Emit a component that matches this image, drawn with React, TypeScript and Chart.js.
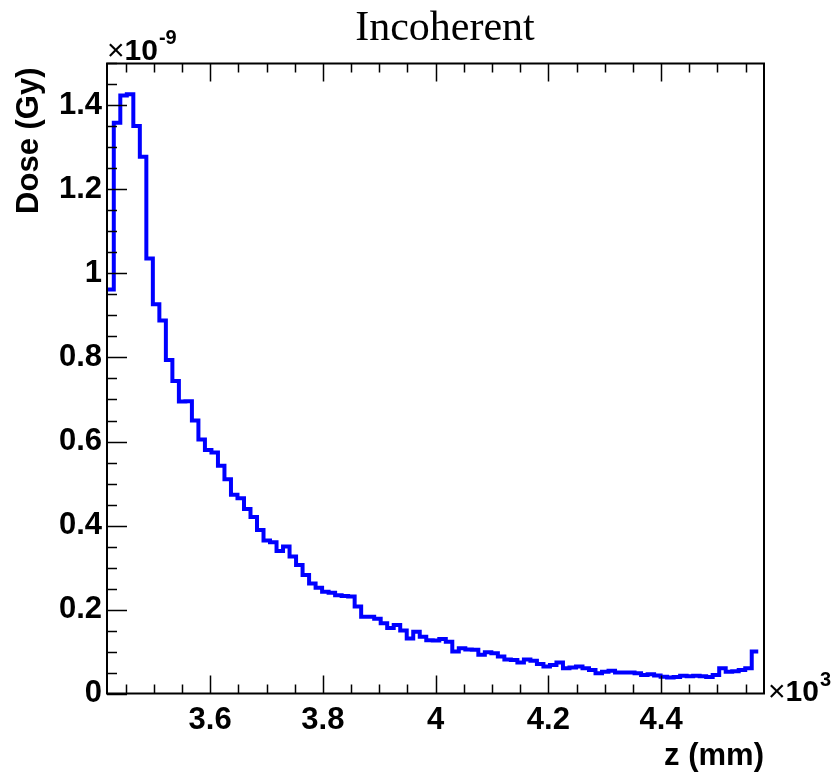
import React, { useEffect, useRef } from "react";
import { Chart, registerables } from "chart.js";

Chart.register(...registerables);

const TITLE = "Incoherent";
const X_TITLE = "z (mm)";
const Y_TITLE = "Dose (Gy)";
const X_EXP = "3";
const Y_EXP = "-9";

const X_MIN = 3.417;
const X_MAX = 4.5825;
const Y_MIN = 0;
const Y_MAX = 1.5;

const HIST_START = 3.4175;
const BIN_WIDTH = 0.011548;

const DOSE = [
  0.962, 1.359, 1.424, 1.427, 1.351, 1.278, 1.036, 0.927, 0.888, 0.794,
  0.744, 0.695, 0.696, 0.65, 0.605, 0.58, 0.574, 0.542, 0.51, 0.473,
  0.465, 0.439, 0.42, 0.389, 0.364, 0.36, 0.339, 0.35, 0.326, 0.306,
  0.282, 0.262, 0.252, 0.242, 0.24, 0.234, 0.232, 0.231, 0.207, 0.183,
  0.183, 0.178, 0.167, 0.156, 0.163, 0.15, 0.131, 0.147, 0.135, 0.127,
  0.126, 0.13, 0.123, 0.1, 0.108, 0.105, 0.104, 0.092, 0.098, 0.096,
  0.088, 0.081, 0.08, 0.074, 0.081, 0.078, 0.07, 0.064, 0.068, 0.074,
  0.06, 0.062, 0.064, 0.06, 0.056, 0.048, 0.052, 0.054, 0.05, 0.05,
  0.05, 0.048, 0.044, 0.046, 0.043, 0.04, 0.038, 0.039, 0.042, 0.041,
  0.042, 0.041, 0.039, 0.044, 0.06, 0.052, 0.053, 0.056, 0.06, 0.1,
];

const X_TICKS = [3.6, 3.8, 4.0, 4.2, 4.4];
const Y_TICKS = [0, 0.2, 0.4, 0.6, 0.8, 1.0, 1.2, 1.4];
const X_MINOR = 0.05;
const Y_MINOR = 0.05;

const SANS = "'Liberation Sans', Arial, Helvetica, sans-serif";
const SERIF = "'Liberation Serif', 'Times New Roman', serif";

const framePlugin = {
  id: "rootFrame",
  afterDraw(chart: any) {
    const { ctx, chartArea } = chart;
    const { left, right, top, bottom } = chartArea;
    const xs = chart.scales.x;
    const ys = chart.scales.y;
    ctx.save();
    ctx.strokeStyle = "#000";
    ctx.lineWidth = 2;
    ctx.strokeRect(left, top, right - left, bottom - top);

    ctx.lineWidth = 1.5;
    ctx.beginPath();
    const xStart = Math.ceil((X_MIN - 1e-9) / X_MINOR) * X_MINOR;
    for (let v = xStart; v <= X_MAX + 1e-9; v += X_MINOR) {
      const isMajor = X_TICKS.some((t) => Math.abs(t - v) < 1e-6);
      const len = isMajor ? 18 : 9;
      const px = Math.round(xs.getPixelForValue(v)) + 0.5;
      ctx.moveTo(px, bottom);
      ctx.lineTo(px, bottom - len);
      ctx.moveTo(px, top);
      ctx.lineTo(px, top + len);
    }
    for (let v = Y_MIN; v <= Y_MAX + 1e-9; v += Y_MINOR) {
      const isMajor = Y_TICKS.some((t) => Math.abs(t - v) < 1e-6);
      const len = isMajor ? 20 : 10;
      const py = Math.round(ys.getPixelForValue(v)) + 0.5;
      ctx.moveTo(left, py);
      ctx.lineTo(left + len, py);
    }
    ctx.stroke();

    ctx.fillStyle = "#000";
    ctx.font = `42px ${SERIF}`;
    ctx.textAlign = "center";
    ctx.textBaseline = "alphabetic";
    ctx.fillText(TITLE, 445, 40);

    ctx.font = `bold 31px ${SANS}`;
    ctx.textAlign = "right";
    ctx.fillText(X_TITLE, right, 765);

    ctx.save();
    ctx.translate(29, top + 4);
    ctx.rotate(-Math.PI / 2);
    ctx.textAlign = "right";
    ctx.textBaseline = "middle";
    ctx.fillText(Y_TITLE, 0, 0);
    ctx.restore();

    ctx.textAlign = "left";
    ctx.textBaseline = "alphabetic";
    let x0 = left;
    ctx.font = `30px ${SANS}`;
    ctx.fillText("\u00d7", x0, 60);
    x0 += ctx.measureText("\u00d7").width;
    ctx.font = `bold 30px ${SANS}`;
    ctx.fillText("10", x0, 60);
    x0 += ctx.measureText("10").width + 1;
    ctx.font = `bold 20px ${SANS}`;
    ctx.fillText(Y_EXP, x0, 44);

    x0 = right + 4;
    ctx.font = `30px ${SANS}`;
    ctx.fillText("\u00d7", x0, 701);
    x0 += ctx.measureText("\u00d7").width;
    ctx.font = `bold 30px ${SANS}`;
    ctx.fillText("10", x0, 701);
    x0 += ctx.measureText("10").width + 1;
    ctx.font = `bold 20px ${SANS}`;
    ctx.fillText(X_EXP, x0, 686);

    ctx.restore();
  },
};

export default function App() {
  const ref = useRef<HTMLCanvasElement | null>(null);

  useEffect(() => {
    if (!ref.current) return;
    const points = DOSE.map((v, i) => ({ x: HIST_START + i * BIN_WIDTH, y: v }));
    points.push({ x: HIST_START + DOSE.length * BIN_WIDTH, y: DOSE[DOSE.length - 1] });

    const chart = new Chart(ref.current, {
      type: "line",
      data: {
        datasets: [
          {
            data: points,
            stepped: true,
            borderColor: "#0000ff",
            borderWidth: 4,
            pointRadius: 0,
            fill: false,
            borderCapStyle: "butt",
            borderJoinStyle: "miter",
          } as any,
        ],
      },
      options: {
        animation: false,
        responsive: false,
        devicePixelRatio: 1,
        layout: { padding: { top: 63.5, right: 71, left: 0, bottom: 0 } },
        plugins: {
          legend: { display: false },
          tooltip: { enabled: false },
          title: { display: false },
        },
        scales: {
          x: {
            type: "linear",
            min: X_MIN,
            max: X_MAX,
            grid: { display: false, drawTicks: false },
            border: { display: false },
            afterBuildTicks: (s: any) => {
              s.ticks = X_TICKS.map((v) => ({ value: v }));
            },
            afterFit: (s: any) => {
              s.height = 80.5;
            },
            ticks: {
              autoSkip: false,
              maxRotation: 0,
              padding: 8,
              color: "#000",
              font: { family: SANS, size: 31, weight: "bold" },
              callback: (v: any) => String(Math.round(Number(v) * 10) / 10),
            },
          },
          y: {
            type: "linear",
            min: Y_MIN,
            max: Y_MAX,
            grid: { display: false, drawTicks: false },
            border: { display: false },
            afterBuildTicks: (s: any) => {
              s.ticks = Y_TICKS.map((v) => ({ value: v }));
            },
            afterFit: (s: any) => {
              s.width = 107;
            },
            ticks: {
              autoSkip: false,
              padding: 5,
              color: "#000",
              font: { family: SANS, size: 31, weight: "bold" },
              callback: (v: any) => String(Math.round(Number(v) * 10) / 10),
            },
          },
        },
      },
      plugins: [framePlugin],
    });
    return () => chart.destroy();
  }, []);

  return (
    <div style={{ position: "absolute", left: 0, top: 0, width: 835, height: 774, background: "#fff" }}>
      <canvas ref={ref} width={835} height={774} style={{ display: "block" }} />
    </div>
  );
}
